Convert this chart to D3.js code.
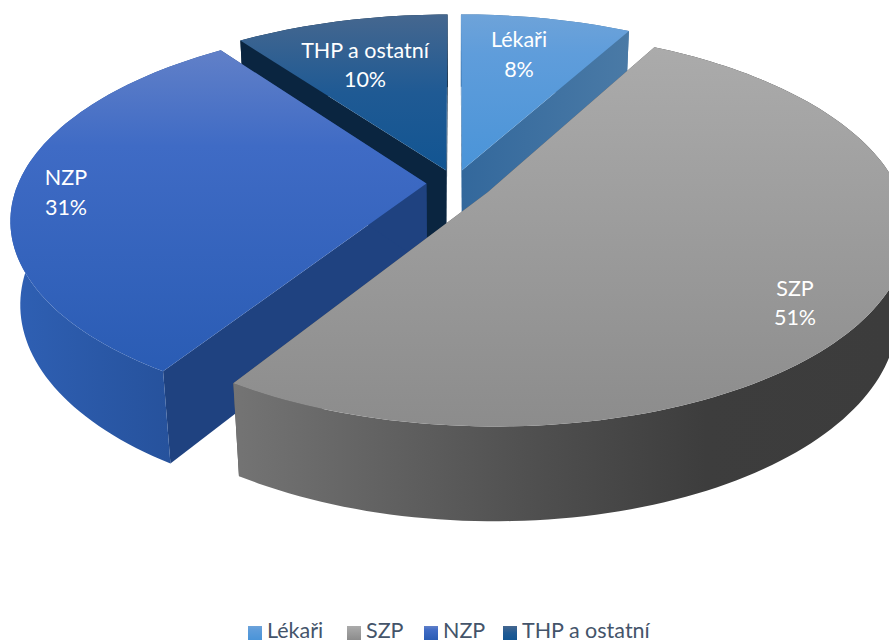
<!DOCTYPE html>
<html><head><meta charset="utf-8">
<script src="https://cdn.jsdelivr.net/npm/d3@7/dist/d3.min.js"></script>
<style>html,body{margin:0;padding:0;background:#fff;overflow:hidden}svg{display:block}</style>
</head><body><svg id="c" width="889" height="643"></svg>
<script>
const categories = ["Lékaři","SZP","NZP","THP a ostatní"];
const values = [8,51,31,10];
const percentLabels = ["8%","51%","31%","10%"];
const topStops = [
  [[0,"#6ea3d9"],[0.25,"#5f9ddb"],[1,"#4a94d8"]],
  [[0,"#ababab"],[1,"#8c8c8c"]],
  [[0,"#6180c8"],[0.3,"#3f6bc5"],[1,"#2a5cb4"]],
  [[0,"#45678f"],[0.5,"#1f5a94"],[1,"#125592"]]
];
const wallStops = [
  [[0,"#33689c"],[1,"#4a7aa6"]],
  [[0,"#747474"],[0.45,"#505050"],[0.72,"#3d3d3d"],[1,"#3c3c3c"]],
  [[0,"#2f60b4"],[1,"#234d94"]],
  [[0,"#0a2540"],[1,"#0a2540"]]
];
const cutColor = ["#3a6d9f","#555555","#1f4280","#0a2540"];
const explode = [28.6,38,28.6,28.6];

const W=889,H=643, cx=455, cy=183, R=408, tilt=27.5*Math.PI/180, D=2000, h=95;
const svg=d3.select("#c"), defs=svg.append("defs");
const pie=d3.pie().sort(null).startAngle(0).endAngle(2*Math.PI);
const arcs=pie(values);
function project(X,Y,Z){
  const w=D-Y*Math.cos(tilt)-Z*Math.sin(tilt);
  return [cx+D*X/w, cy+D*(Y*Math.sin(tilt)-Z*Math.cos(tilt))/w];
}
const line=d3.line();
function grad(id,stops,x1,y1,x2,y2){
  const g=defs.append("linearGradient").attr("id",id).attr("gradientUnits","userSpaceOnUse")
    .attr("x1",x1).attr("y1",y1).attr("x2",x2).attr("y2",y2);
  stops.forEach(s=>g.append("stop").attr("offset",s[0]).attr("stop-color",s[1]));
}
const order=[3,0,2,1];
const geoms=arcs.map((a,i)=>{
  const mid=(a.startAngle+a.endAngle)/2;
  const ox=explode[i]*Math.sin(mid), oy=-explode[i]*Math.cos(mid);
  const n=Math.max(8,Math.round((a.endAngle-a.startAngle)*40));
  const angs=d3.range(n+1).map(k=>a.startAngle+(a.endAngle-a.startAngle)*k/n);
  const pt=(ang,r,z)=>project(ox+r*Math.sin(ang),oy-r*Math.cos(ang),z);
  return {a,angs,pt,
    top:angs.map(t=>pt(t,R,0)),
    bot:angs.map(t=>pt(t,R,-h)),
    apexT:pt(0,0,0),apexB:pt(0,0,-h)};
});
order.forEach(i=>{
  const g=geoms[i];
  const ptsAll=g.top.concat([g.apexT]);
  const ys=ptsAll.map(p=>p[1]), xs=g.top.concat(g.bot).map(p=>p[0]);
  grad("t"+i,topStops[i],0,d3.min(ys),0,d3.max(ys));
  grad("w"+i,wallStops[i],Math.max(0,d3.min(xs)),0,Math.min(W,d3.max(xs)),0);
  const s=svg.append("g");
  [0,g.angs.length-1].forEach(j=>{
    s.append("path").attr("d",line([g.apexT,g.top[j],g.bot[j],g.apexB])+"Z")
      .attr("fill",i===0?"url(#w0)":cutColor[i]);
  });
  // outer wall: one quad per arc step, all in a single path (no seams)
  const quads=d3.range(g.angs.length-1).map(j=>line([g.top[j],g.top[j+1],g.bot[j+1],g.bot[j]])+"Z").join("");
  s.append("path").attr("d",quads).attr("fill","url(#w"+i+")");
  s.append("path").attr("d",line(ptsAll)+"Z").attr("fill","url(#t"+i+")");
});
const labelPos=[[519,47,77],[795,296,325],[66,185,215],[365,58,87]];
categories.forEach((c,i)=>{
  const t=svg.append("text").attr("font-family","Lato").attr("font-size",21.5).attr("fill","#fff").attr("text-anchor","middle");
  t.append("tspan").attr("x",labelPos[i][0]).attr("y",labelPos[i][1]).text(c);
  t.append("tspan").attr("x",labelPos[i][0]).attr("y",labelPos[i][2]).text(percentLabels[i]);
});
const legendX=[248,347,424,503];
categories.forEach((c,i)=>{
  grad("l"+i,topStops[i],0,626,0,640);
  svg.append("rect").attr("x",legendX[i]).attr("y",626).attr("width",14).attr("height",14).attr("fill","url(#l"+i+")");
  svg.append("text").attr("x",legendX[i]+19).attr("y",638).attr("font-family","Lato").attr("font-size",21.5).attr("fill","#44546a").text(c);
});
</script></body></html>
